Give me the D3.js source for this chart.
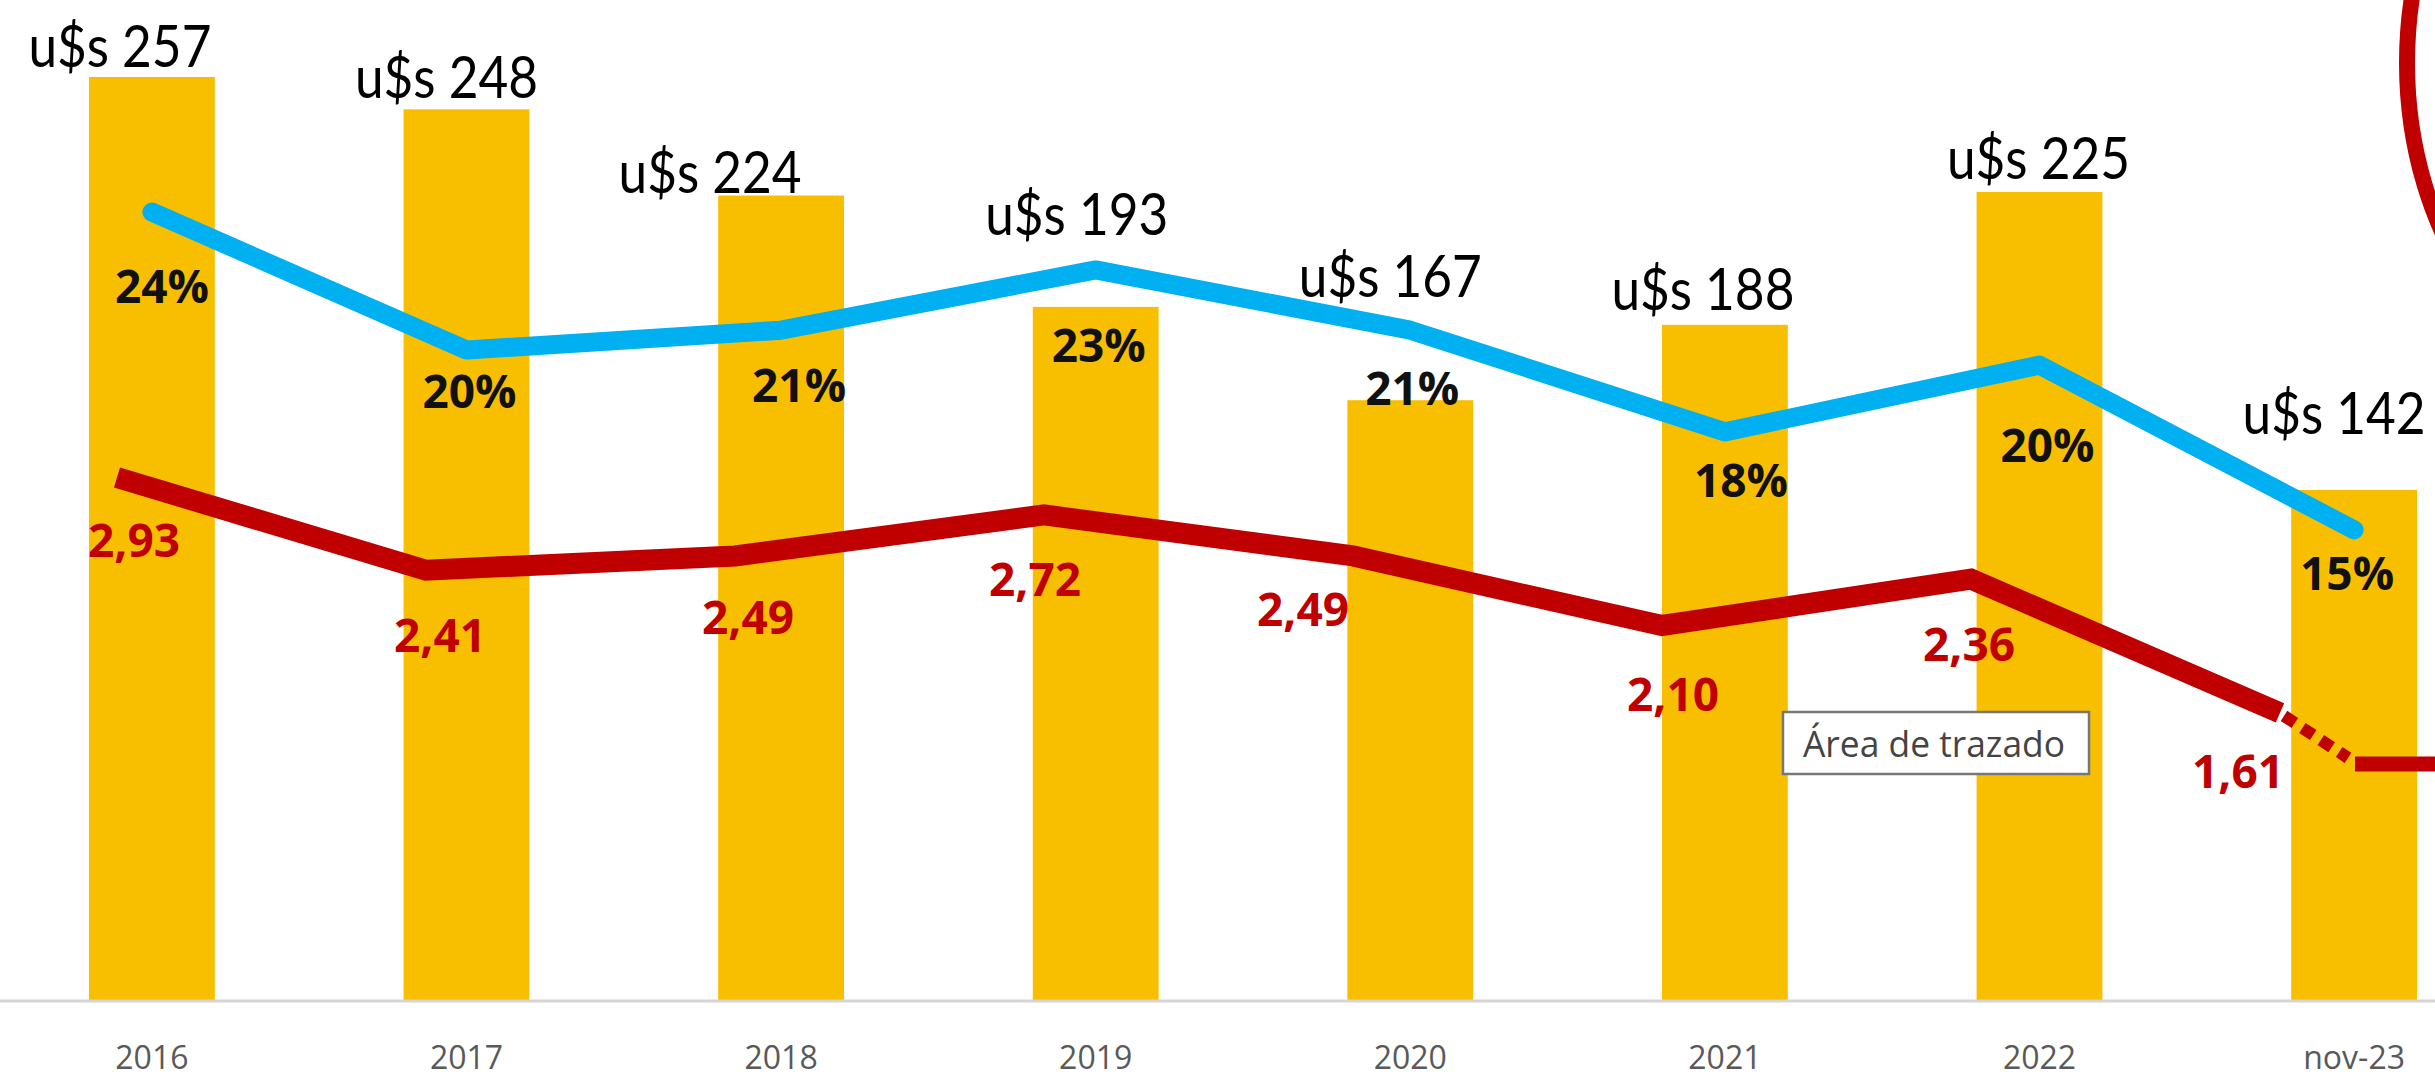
<!DOCTYPE html>
<html>
<head>
<meta charset="utf-8">
<script src="https://cdn.jsdelivr.net/npm/d3@7"></script>
<style>
    body { margin: 0; background: #fff; overflow: hidden; }
    svg.main { display: block; }
    .amt { font-family: Lato, "Open Sans", sans-serif; fill: #000; }
    .pct { font-family: "Open Sans", sans-serif; font-weight: bold; fill: #111; }
    .ratio { font-family: "Open Sans", sans-serif; font-weight: bold; fill: #c00000; }
    .tick { font-family: "Open Sans", sans-serif; fill: #595959; }
</style>
</head>
<body>
<script>
// data
var years = ["2016", "2017", "2018", "2019", "2020", "2021", "2022", "nov-23"];
var amounts = [257, 248, 224, 193, 167, 188, 225, 142];          // u$s, bars
var shares = [0.2435, 0.2032, 0.209, 0.2266, 0.209, 0.1793, 0.1988, 0.1507]; // blue line
var ratios = [2.93, 2.41, 2.49, 2.72, 2.49, 2.10, 2.36, 1.61];   // red line

// hand placed label offsets (dx, dy) as in the original slide
var amtNudge = [[-32, -10], [-20, -11], [-71, -3], [-19, -72], [-20, -103], [-22, -15], [-1, -13], [-20, -56]];
var pctNudge = [[10, 91], [3, 58], [18, 72], [3, 92], [2, 75], [16, 65], [8, 97], [-7, 60]];
var ratioNudge = [[17, 80], [14, 82], [13, 78], [-9, 81], [-50, 70], [11, 85], [-2, 82], [-42, 75]];

var W = 2435, H = 1077;

docMain();

function docMain() {
    var svg = d3.select("body").append("svg")
        .attr("class", "main")
        .attr("width", W)
        .attr("height", H);

    var x = d3.scaleBand().domain(years).range([-5.4, 2511.4])
        .paddingInner(0.6).paddingOuter(0.3);
    var xr = d3.scalePoint().domain(years).range([117, 2280]);
    var yAmt = d3.scaleLinear().domain([0, 257]).range([1000, 77]);
    var yPct = d3.scaleLinear().domain([0, 0.3]).range([1046, 18.5]);
    var yRat = d3.scaleLinear().domain([0, 3]).range([1000, 465]);

    var cx = function (i) { return x(years[i]) + x.bandwidth() / 2; };

    // bars
    svg.selectAll("rect.bar").data(amounts).enter().append("rect")
        .attr("class", "bar")
        .attr("x", function (d, i) { return x(years[i]); })
        .attr("width", x.bandwidth())
        .attr("y", function (d) { return yAmt(d); })
        .attr("height", function (d) { return yAmt(0) - yAmt(d); })
        .attr("fill", "#f7bf00");

    // baseline
    svg.append("line")
        .attr("x1", 0).attr("x2", W)
        .attr("y1", yAmt(0) + 1).attr("y2", yAmt(0) + 1)
        .attr("stroke", "#d4d4d4").attr("stroke-width", 3);

    // x axis labels
    var xAxis = d3.axisBottom(x).tickSize(0).tickPadding(0);
    var gx = svg.append("g")
        .attr("transform", "translate(0," + 1069 + ")")
        .call(xAxis);
    gx.select(".domain").remove();
    gx.selectAll("text")
        .attr("class", "tick")
        .attr("dy", 0)
        .attr("font-size", 32);

    // blue line
    var blue = d3.line()
        .x(function (d, i) { return cx(i); })
        .y(function (d) { return yPct(d); });
    svg.append("path")
        .datum(shares)
        .attr("d", blue)
        .attr("fill", "none")
        .attr("stroke", "#00b0f0")
        .attr("stroke-width", 19)
        .attr("stroke-linejoin", "round")
        .attr("stroke-linecap", "round");

    // red line
    var red = d3.line()
        .x(function (d, i) { return xr(years[i]); })
        .y(function (d) { return yRat(d); });
    svg.append("path")
        .datum(ratios)
        .attr("d", red)
        .attr("fill", "none")
        .attr("stroke", "#c00000")
        .attr("stroke-width", 21)
        .attr("stroke-linejoin", "miter");

    // dashed tail of the red line and the flat piece after it
    var n = ratios.length - 1;
    var lx = xr(years[n]), ly = yRat(ratios[n]);
    svg.append("line")
        .attr("x1", lx + 4).attr("y1", ly + 3)
        .attr("x2", lx + 68).attr("y2", ly + 45)
        .attr("stroke", "#c00000")
        .attr("stroke-width", 12)
        .attr("stroke-dasharray", "13 9");
    svg.append("line")
        .attr("x1", lx + 75).attr("y1", ly + 51)
        .attr("x2", W).attr("y2", ly + 51)
        .attr("stroke", "#c00000")
        .attr("stroke-width", 15);

    // amount labels
    svg.selectAll("text.amt").data(amounts).enter().append("text")
        .attr("class", "amt")
        .attr("text-anchor", "middle")
        .attr("font-size", 58)
        .attr("textLength", 183)
        .attr("lengthAdjust", "spacingAndGlyphs")
        .attr("x", function (d, i) { return cx(i) + amtNudge[i][0]; })
        .attr("y", function (d, i) { return yAmt(d) + amtNudge[i][1]; })
        .text(function (d) { return "u$s " + d; });

    // share labels
    var fmtPct = d3.format(".0%");
    svg.selectAll("text.pct").data(shares).enter().append("text")
        .attr("class", "pct")
        .attr("text-anchor", "middle")
        .attr("font-size", 46)
        .attr("x", function (d, i) { return cx(i) + pctNudge[i][0]; })
        .attr("y", function (d, i) { return yPct(d) + pctNudge[i][1]; })
        .text(function (d) { return fmtPct(d); });

    // ratio labels
    svg.selectAll("text.ratio").data(ratios).enter().append("text")
        .attr("class", "ratio")
        .attr("text-anchor", "middle")
        .attr("font-size", 46)
        .attr("x", function (d, i) { return xr(years[i]) + ratioNudge[i][0]; })
        .attr("y", function (d, i) { return yRat(d) + ratioNudge[i][1]; })
        .text(function (d) { return d.toFixed(2).replace(".", ","); });

    // excel tooltip left in the screenshot
    var tip = svg.append("g").attr("transform", "translate(1783,712)");
    tip.append("rect")
        .attr("width", 306).attr("height", 62)
        .attr("fill", "#fff")
        .attr("stroke", "#777").attr("stroke-width", 2.5);
    tip.append("text")
        .attr("x", 20).attr("y", 45)
        .attr("font-family", "'Open Sans', sans-serif")
        .attr("font-size", 36)
        .attr("fill", "#444")
        .attr("textLength", 262)
        .attr("lengthAdjust", "spacingAndGlyphs")
        .text("Área de trazado");

    // red highlight ring, cut by the right edge
    svg.append("ellipse")
        .attr("cx", 2657).attr("cy", 63)
        .attr("rx", 250).attr("ry", 330)
        .attr("fill", "none")
        .attr("stroke", "#c00000")
        .attr("stroke-width", 16);
}
</script>
</body>
</html>
